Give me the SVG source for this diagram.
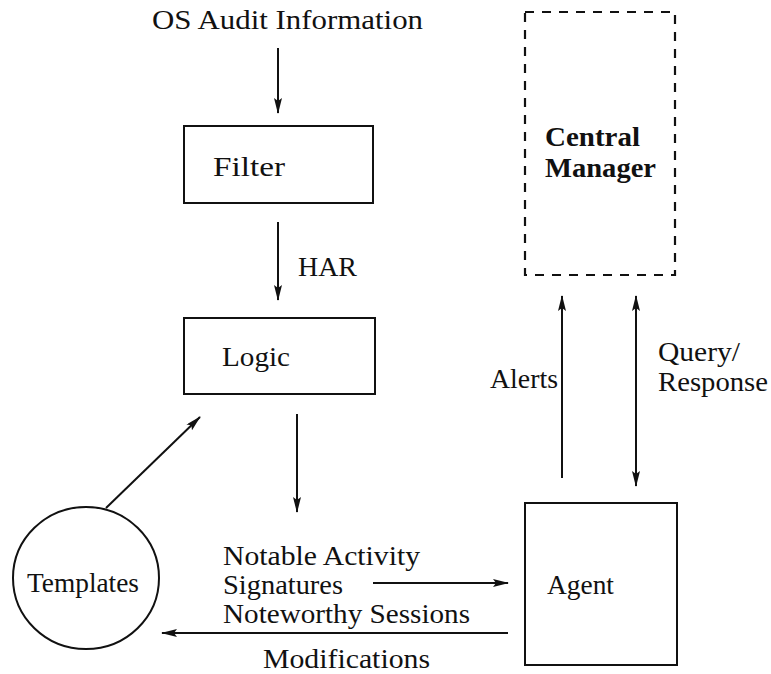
<svg xmlns="http://www.w3.org/2000/svg" width="771" height="674" viewBox="0 0 771 674">
<style>
text{font-family:"Liberation Serif","Times New Roman","DejaVu Serif",serif;font-size:28px;fill:#111}
.b{font-weight:bold}
.box{fill:none;stroke:#111;stroke-width:2}
.dash{fill:none;stroke:#111;stroke-width:2.2;stroke-dasharray:9 8}
.ln{fill:none;stroke:#111;stroke-width:2}
</style>
<defs>
<marker id="ah" viewBox="0 0 16 8" refX="15" refY="4" markerWidth="16" markerHeight="8" markerUnits="userSpaceOnUse" orient="auto-start-reverse">
<path d="M0,0 L16,4 L0,8 L3,4 Z" fill="#111"/>
</marker>
</defs>
<rect width="771" height="674" fill="#fff"/>
<g id="source"><text x="152" y="29" textLength="271" lengthAdjust="spacingAndGlyphs">OS Audit Information</text></g>
<g id="filter"><rect class="box" x="184" y="126" width="189" height="77"/><text x="213" y="176" textLength="72" lengthAdjust="spacingAndGlyphs">Filter</text></g>
<g id="logic"><rect class="box" x="184" y="318" width="191" height="76"/><text x="222" y="366" textLength="68" lengthAdjust="spacingAndGlyphs">Logic</text></g>
<g id="outputs">
<text x="223" y="565" textLength="197" lengthAdjust="spacingAndGlyphs">Notable Activity</text>
<text x="223" y="594" textLength="120" lengthAdjust="spacingAndGlyphs">Signatures</text>
<text x="223" y="623" textLength="247" lengthAdjust="spacingAndGlyphs">Noteworthy Sessions</text>
</g>
<g id="agent"><rect class="box" x="525" y="503" width="152" height="162"/><text x="547" y="594" textLength="67" lengthAdjust="spacingAndGlyphs">Agent</text></g>
<g id="templates"><ellipse class="box" cx="86" cy="578" rx="73" ry="71"/><text x="27" y="592" textLength="112" lengthAdjust="spacingAndGlyphs">Templates</text></g>
<g id="central"><rect class="dash" x="525" y="12" width="150" height="263"/><text class="b" x="545" y="146" textLength="95" lengthAdjust="spacingAndGlyphs">Central</text><text class="b" x="545" y="177" textLength="111" lengthAdjust="spacingAndGlyphs">Manager</text></g>
<g id="connectors">
<line class="ln" x1="278" y1="48" x2="278" y2="113" marker-end="url(#ah)"/>
<line class="ln" x1="278" y1="222" x2="278" y2="300" marker-end="url(#ah)"/>
<text x="298" y="276" textLength="59" lengthAdjust="spacingAndGlyphs">HAR</text>
<line class="ln" x1="297" y1="414" x2="297" y2="512" marker-end="url(#ah)"/>
<line class="ln" x1="106" y1="508" x2="200" y2="417" marker-end="url(#ah)"/>
<line class="ln" x1="373" y1="583" x2="508" y2="583" marker-end="url(#ah)"/>
<line class="ln" x1="508" y1="633" x2="162" y2="633" marker-end="url(#ah)"/>
<text x="263" y="668" textLength="167" lengthAdjust="spacingAndGlyphs">Modifications</text>
<line class="ln" x1="562" y1="478" x2="562" y2="296" marker-end="url(#ah)"/>
<text x="490" y="388" textLength="68" lengthAdjust="spacingAndGlyphs">Alerts</text>
<line class="ln" x1="636" y1="296" x2="636" y2="486" marker-start="url(#ah)" marker-end="url(#ah)"/>
<text x="658" y="361" textLength="82" lengthAdjust="spacingAndGlyphs">Query/</text>
<text x="658" y="391" textLength="110" lengthAdjust="spacingAndGlyphs">Response</text>
</g>
</svg>
